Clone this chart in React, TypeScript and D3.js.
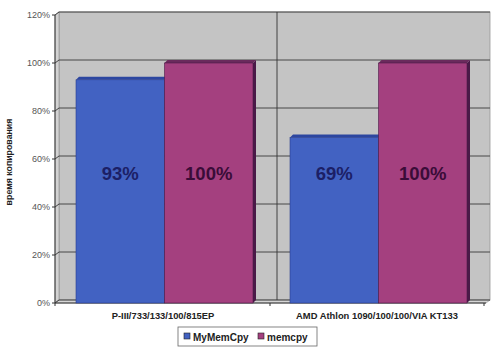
import React from "react";
import * as d3 from "d3";

const categories = ["P-III/733/133/100/815EP", "AMD Athlon 1090/100/100/VIA KT133"];
const seriesNames = ["MyMemCpy", "memcpy"];
const myMemCpy = [0.93, 0.69];
const memcpy = [1.0, 1.0];
const valueLabels = [["93%", "100%"], ["69%", "100%"]];
const yTicks = [0, 0.2, 0.4, 0.6, 0.8, 1.0, 1.2];
const yTitle = "время копирования";

const W = 499, H = 352;
const colors = ["#4262c2", "#a4407f"];
const topColors = ["#2c46a0", "#6a2a5c"];
const sideColors = ["#2a3d8c", "#4a1a48"];
const labelColors = ["#1c1f66", "#3a0c38"];
const font = "'Liberation Sans', Arial, sans-serif";

export default function App() {
  const x0 = 55, x1 = 486;
  const dx = 4, dy = -3;
  const y = d3.scaleLinear().domain([0, 1.2]).range([303, 15]);
  const xBand = d3.scaleBand<string>().domain(categories).range([x0 + 4, x1 + 1]).padding(0);
  const bw = xBand.bandwidth();
  const inner = d3.scaleBand<string>().domain(seriesNames).range([17, bw - 20]).padding(0);
  const data = [myMemCpy, memcpy];
  const depth = 3;

  const wallLeft = x0 + dx, wallRight = x1 + dx;
  const wallTop = y(1.2) + dy, wallBottom = y(0) + dy;

  return (
    <svg width={W} height={H} style={{ position: "absolute", left: 0, top: 0, background: "#fff" }}>
      {/* back wall */}
      <rect x={wallLeft} y={wallTop} width={wallRight - wallLeft} height={wallBottom - wallTop} fill="#c4c4c4" stroke="#9a9a9a" strokeWidth={0.8} />
      {/* side wall */}
      <polygon points={`${x0},${y(1.2)} ${wallLeft},${wallTop} ${wallLeft},${wallBottom} ${x0},${y(0)}`} fill="#d2d2d2" stroke="#8a8a8a" strokeWidth={0.6} />
      {/* floor */}
      <polygon points={`${x0},${y(0)} ${wallLeft},${wallBottom} ${wallRight},${wallBottom} ${x1},${y(0)}`} fill="#d6d6d6" stroke="#8a8a8a" strokeWidth={0.6} />
      {/* gridlines */}
      {yTicks.map((t) => (
        <g key={t}>
          <line x1={x0} y1={y(t)} x2={wallLeft} y2={y(t) + dy} stroke="#333" strokeWidth={0.9} />
          <line x1={wallLeft} y1={y(t) + dy} x2={wallRight} y2={y(t) + dy} stroke="#3a3a3a" strokeWidth={0.9} />
        </g>
      ))}
      {/* category divider on back wall */}
      {categories.slice(1).map((c) => (
        <line key={c} x1={(xBand(c) as number) + dx} y1={wallTop} x2={(xBand(c) as number) + dx} y2={wallBottom} stroke="#333" strokeWidth={0.9} />
      ))}
      {/* axes */}
      <line x1={x0} y1={y(1.2)} x2={x0} y2={y(0)} stroke="#333" strokeWidth={1} />
      <line x1={x0} y1={y(0)} x2={x1} y2={y(0)} stroke="#333" strokeWidth={1} />
      {yTicks.map((t) => (
        <g key={"t" + t}>
          <line x1={x0 - 3} y1={y(t)} x2={x0} y2={y(t)} stroke="#333" strokeWidth={1} />
          <text x={x0 - 5} y={y(t) + 3.2} textAnchor="end" fontFamily={font} fontSize={9} fill="#555">{Math.round(t * 100) + "%"}</text>
        </g>
      ))}
      {[x0, ...categories.map((c) => (xBand(c) as number) + bw)].map((xx, i) => (
        <line key={"xt" + i} x1={i === 0 ? xx : xx - 3} y1={y(0)} x2={i === 0 ? xx : xx - 3} y2={y(0) + 3} stroke="#333" strokeWidth={1} />
      ))}
      {/* bars */}
      {categories.map((c, ci) => (
        <g key={c}>
          {seriesNames.map((s, si) => {
            const v = data[si][ci];
            const bx = (xBand(c) as number) + (inner(s) as number);
            const w = inner.bandwidth();
            const top = y(v);
            const bottom = y(0);
            return (
              <g key={s}>
                <polygon points={`${bx + w},${top} ${bx + w + depth},${top - depth} ${bx + w + depth},${bottom - depth} ${bx + w},${bottom}`} fill={sideColors[si]} />
                <polygon points={`${bx},${top} ${bx + depth},${top - depth} ${bx + w + depth},${top - depth} ${bx + w},${top}`} fill={topColors[si]} />
                <rect x={bx} y={top} width={w} height={bottom - top} fill={colors[si]} stroke={sideColors[si]} strokeWidth={0.6} />
                <text x={bx + w / 2} y={180} textAnchor="middle" fontFamily={font} fontWeight="bold" fontSize={18.5} fill={labelColors[si]}>{valueLabels[ci][si]}</text>
              </g>
            );
          })}
          <text x={(xBand(c) as number) + bw / 2 - 3} y={319} textAnchor="middle" fontFamily={font} fontWeight="bold" fontSize={9.4} fill="#222">{c}</text>
        </g>
      ))}
      {/* y title */}
      <text transform={`translate(12,162) rotate(-90)`} textAnchor="middle" fontFamily={font} fontWeight="bold" fontSize={8.8} fill="#222">{yTitle}</text>
      {/* legend */}
      <rect x={178} y={327} width={139} height={19} fill="#fff" stroke="#666" strokeWidth={0.8} />
      {seriesNames.map((s, i) => {
        const lx = i === 0 ? 184 : 258;
        return (
          <g key={s}>
            <rect x={lx} y={333} width={6} height={6} fill={colors[i]} stroke="#222" strokeWidth={0.6} />
            <text x={lx + 9} y={340.5} fontFamily={font} fontWeight="bold" fontSize={10} fill="#222">{s}</text>
          </g>
        );
      })}
    </svg>
  );
}
